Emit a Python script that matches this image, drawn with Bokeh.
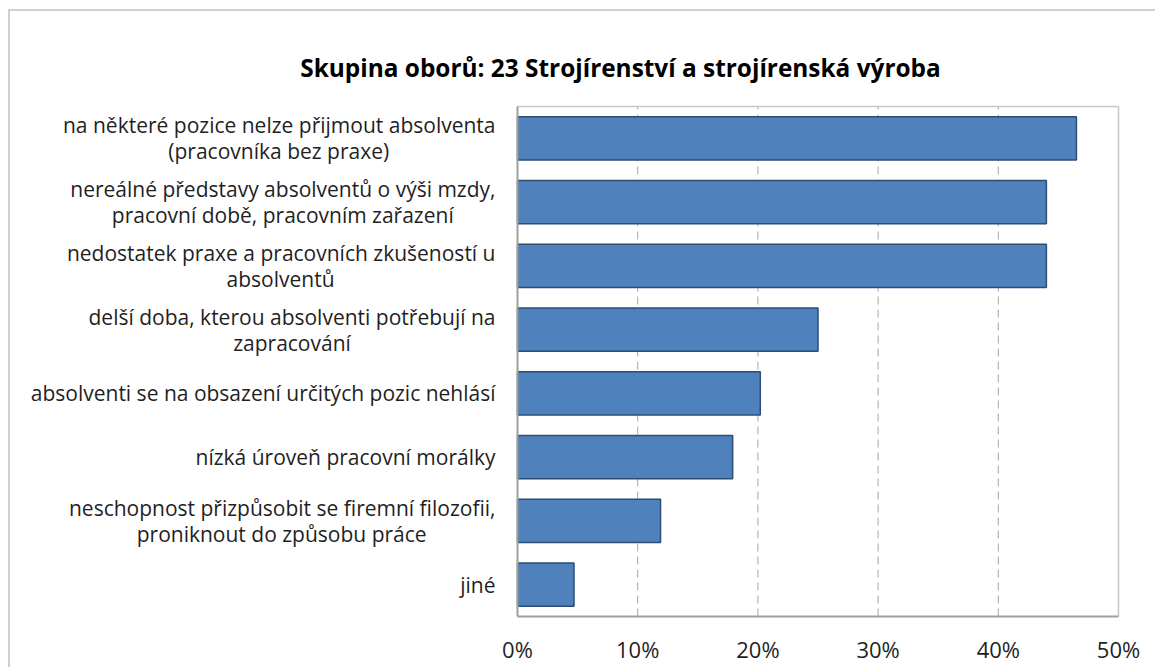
import unicodedata
from bokeh.plotting import figure
from bokeh.models import ColumnDataSource, Range1d, FixedTicker, PrintfTickFormatter
from bokeh.core.properties import value
from bokeh.embed import file_html
from bokeh.resources import INLINE

# ---------------- data ----------------
title_text = "Skupina oborů: 23 Strojírenství a strojírenská výroba"
categories = [
    "na některé pozice nelze přijmout absolventa\n(pracovníka bez praxe)",
    "nereálné představy absolventů o výši mzdy,\npracovní době, pracovním zařazení",
    "nedostatek praxe a pracovních zkušeností u\nabsolventů",
    "delší doba, kterou absolventi potřebují na\nzapracování",
    "absolventi se na obsazení určitých pozic nehlásí",
    "nízká úroveň pracovní morálky",
    "neschopnost přizpůsobit se firemní filozofii,\nproniknout do způsobu práce",
    "jiné",
]
values = [46.5, 44.0, 44.0, 25.0, 20.2, 17.9, 11.9, 4.7]
x_ticks = [0, 10, 20, 30, 40, 50]

# ---------------- layout (pixels) ----------------
W, H = 1147, 658
PLOT_LEFT_PX = 507     # plot box left edge inside canvas
PLOT_TOP_PX = 95       # plot box top edge inside canvas
PLOT_W_PX = 601
PLOT_H_PX = 510
BOTTOM_PAD_PX = 4      # frame extends a little below the plot box
LABEL_RIGHT_PX = -22   # right edge of category labels, rel. to plot box left
LINE_STEP_PX = 26      # distance between wrapped label lines
TITLE_X_PX = 103       # title centre, rel. to plot box left
TITLE_Y_PX = 39        # title centre, above plot box top

FONT = "Open Sans"
LABEL_SIZE = 21

n = len(categories)
x_min, x_max = x_ticks[0], x_ticks[-1]
ppx = PLOT_W_PX / (x_max - x_min)          # px per x unit
ppy = PLOT_H_PX / n                        # px per y unit
frame_h = PLOT_TOP_PX + PLOT_H_PX + BOTTOM_PAD_PX
x_range = Range1d(x_min - PLOT_LEFT_PX / ppx, x_min + (W - PLOT_LEFT_PX) / ppx)
y_range = Range1d(-BOTTOM_PAD_PX / ppy, n + PLOT_TOP_PX / ppy)

# approximate Open Sans advance widths (em) to centre wrapped lines
EM = {
    "a": .556, "b": .613, "c": .502, "d": .613, "e": .561, "f": .339, "g": .548,
    "h": .614, "i": .253, "j": .253, "k": .525, "l": .253, "m": .930, "n": .614,
    "o": .604, "p": .613, "q": .613, "r": .408, "s": .477, "t": .353, "u": .614,
    "v": .501, "w": .778, "x": .524, "y": .502, "z": .477, " ": .26, ",": .245,
    "(": .284, ")": .284,
}


def text_width(s, size):
    w = 0.0
    for ch in s:
        base = unicodedata.normalize("NFD", ch)[0]
        w += EM.get(base, 0.55)
    return w * size


ypos = [n - 0.5 - i for i in range(n)]

# one text row per label line
lt, ly, lx, lal = [], [], [], []
for c, yc in zip(categories, ypos):
    lines = c.split("\n")
    k = len(lines)
    w0 = text_width(lines[0], LABEL_SIZE)
    for j, line in enumerate(lines):
        lt.append(line)
        ly.append(yc + ((k - 1) / 2 - j) * LINE_STEP_PX / ppy)
        if j == 0:
            lx.append(x_min + LABEL_RIGHT_PX / ppx)
            lal.append("right")
        else:
            lx.append(x_min + (LABEL_RIGHT_PX - w0 / 2) / ppx)
            lal.append("center")

bar_src = ColumnDataSource(dict(y=ypos, value=values))
lab_src = ColumnDataSource(dict(text=lt, y=ly, x=lx, align=lal))

p = figure(width=W, height=H, x_range=x_range, y_range=y_range,
           output_backend="svg", toolbar_location=None,
           min_border_left=0, min_border_right=0,
           min_border_top=0, min_border_bottom=H - frame_h)
p.styles = {"border-left": "2px solid #D0D0D0", "border-top": "2px solid #D0D0D0",
            "margin-left": "8px", "margin-top": "9px"}

# dashed vertical grid lines (inner ticks)
inner = x_ticks[1:-1]
p.segment(x0=inner, x1=inner, y0=[0] * len(inner), y1=[n] * len(inner),
          line_color="#A6A6A6", line_dash="8 5", line_width=1)

# plot box: top & right light, left & bottom darker
p.segment(x0=[x_min, x_max], x1=[x_max, x_max], y0=[n, 0], y1=[n, n],
          line_color="#C8C8C8", line_width=1.5)

p.hbar(y="y", right="value", left=x_min, height=0.675, source=bar_src,
       fill_color="#4F81BD", line_color="#2C4D75", line_width=1.5)

p.segment(x0=[x_min, x_min], x1=[x_max, x_min], y0=[0, 0], y1=[0, n],
          line_color="#A0A0A0", line_width=2)

# category labels
p.text(x="x", y="y", text="text", source=lab_src, text_align="align",
       text_baseline="middle", text_font=value(FONT),
       text_font_size=f"{LABEL_SIZE}px", text_color="#1F1F1F")

# title
p.text(x=[x_min + TITLE_X_PX / ppx], y=[n + TITLE_Y_PX / ppy], text=[title_text],
       text_align="center", text_baseline="middle", text_font=value(FONT),
       text_font_style="bold", text_font_size="24.4px", text_color="#000000")

# x axis (labels only)
p.xaxis.ticker = FixedTicker(ticks=x_ticks)
p.xaxis.formatter = PrintfTickFormatter(format="%d%%")
p.xaxis.major_label_text_font = FONT
p.xaxis.major_label_text_font_size = "22px"
p.xaxis.major_label_text_color = "#1F1F1F"
p.xaxis.major_tick_line_color = None
p.xaxis.minor_tick_line_color = None
p.xaxis.major_tick_out = 0
p.xaxis.major_tick_in = 0
p.xaxis.major_label_standoff = 17 - BOTTOM_PAD_PX
p.xaxis.axis_line_color = None

p.yaxis.visible = False
p.xgrid.grid_line_color = None
p.ygrid.grid_line_color = None

p.outline_line_color = None
p.background_fill_color = "white"
p.border_fill_color = "white"

open("out.html", "w").write(file_html(p, INLINE))
